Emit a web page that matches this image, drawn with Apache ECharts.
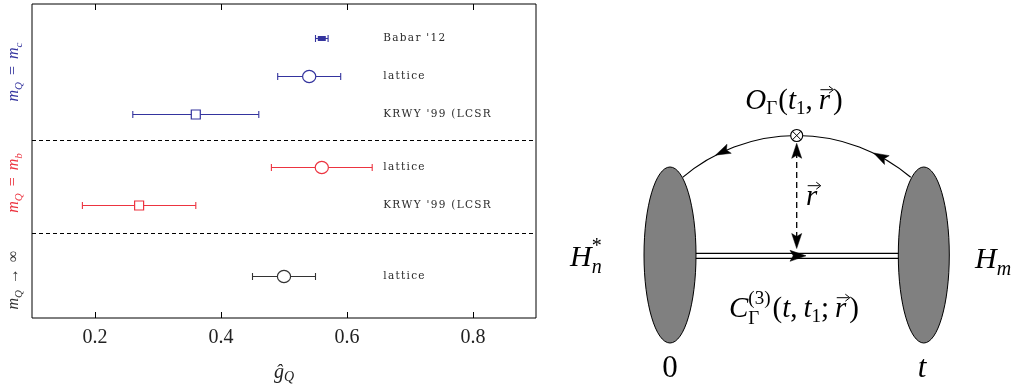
<!DOCTYPE html>
<html><head><meta charset="utf-8">
<script src="https://cdn.jsdelivr.net/npm/echarts@6/dist/echarts.min.js"></script>
<style>html,body{margin:0;padding:0;background:#fff}#c{width:1024px;height:387px}</style>
</head><body><div id="c"></div>
<script>
// ---------- data ----------
const rowLabels = ["Babar '12", "lattice", "KRWY '99 (LCSR", "lattice", "KRWY '99 (LCSR", "lattice"];
const rowGroups = [0, 0, 0, 1, 1, 2];
const rowPositions = [0.9, 1.9, 2.9, 4.3, 5.3, 7.2];
const centralValues = [0.56, 0.54, 0.36, 0.56, 0.27, 0.50];
const errorValues = [0.01, 0.05, 0.10, 0.08, 0.09, 0.05];
const markerKinds = ['bar', 'circle', 'square', 'circle', 'square', 'circle'];
const separatorPositions = [3.6, 6.05];
const xTickValues = [0.2, 0.4, 0.6, 0.8];
const groupColors = ['#34349e', '#ec3440', '#333333'];

// ---------- text helpers ----------
const mctx = document.createElement('canvas').getContext('2d');
const SERIF = '"Liberation Serif"';
function fnt(s, it, fam) { return (it ? 'italic ' : '') + s + 'px ' + (fam || SERIF); }
function meas(t, s, it, fam) { mctx.font = fnt(s, it, fam); return mctx.measureText(t).width; }
function mathElems(parts, x0, base, align, color) {
  let x = 0, prevX = 0; const items = [];
  parts.forEach(p => {
    const w = meas(p.t, p.s, p.it, p.fam);
    const px = p.same ? prevX : x + (p.k || 0);
    items.push(Object.assign({}, p, { x: px, w: w }));
    if (p.same) { x = Math.max(x, px + w); } else { prevX = px; x = px + w; }
  });
  const start = align === 'center' ? x0 - x / 2 : (align === 'right' ? x0 - x : x0);
  const out = [];
  items.forEach(p => {
    const bx = start + p.x, by = base + (p.dy || 0);
    out.push({ type: 'text', x: bx, y: by - 0.305 * p.s,
      style: { text: p.t, font: fnt(p.s, p.it, p.fam), fill: color || '#000',
        align: 'left', verticalAlign: 'middle', textAlign: 'left', textVerticalAlign: 'middle' } });
    if (p.vec) {
      const ay = by - 0.7 * p.s, ax0 = bx + 0.15 * p.w, ax1 = bx + p.w + 0.12 * p.s;
      out.push({ type: 'line', shape: { x1: ax0, y1: ay, x2: ax1 - 1, y2: ay }, style: { stroke: color || '#000', lineWidth: 1 } });
      out.push({ type: 'polyline', shape: { points: [[ax1 - 4.5, ay - 3.5], [ax1, ay], [ax1 - 4.5, ay + 3.5]] }, style: { stroke: color || '#000', lineWidth: 1, fill: null } });
    }
  });
  return out;
}
function head(tx, ty, ang, len, wid) {
  const dx = Math.cos(ang), dy = Math.sin(ang);
  const bx = tx - dx * len, by = ty - dy * len;
  const nx = -dy, ny = dx;
  return { type: 'polygon', shape: { points: [[tx, ty], [bx + nx * wid / 2, by + ny * wid / 2], [tx - dx * len * 0.8, ty - dy * len * 0.8], [bx - nx * wid / 2, by - ny * wid / 2]] },
    style: { fill: '#000', stroke: '#000', lineWidth: 0.5 } };
}

// ---------- group labels (rotated) ----------
const groupLabelParts = [
  [{ t: 'm', s: 16, it: 1 }, { t: 'Q', s: 11, it: 1, dy: 3 }, { t: '=', s: 16, k: 7 }, { t: 'm', s: 16, it: 1, k: 7 }, { t: 'c', s: 11, it: 1, dy: 3 }],
  [{ t: 'm', s: 16, it: 1 }, { t: 'Q', s: 11, it: 1, dy: 3 }, { t: '=', s: 16, k: 7 }, { t: 'm', s: 16, it: 1, k: 7 }, { t: 'b', s: 11, it: 1, dy: 3 }],
  [{ t: 'm', s: 16, it: 1 }, { t: 'Q', s: 11, it: 1, dy: 3 }, { t: '→', s: 16, k: 6 }, { t: '∞', s: 16, k: 6 }]
];
const groupLabelCenters = [[15, 72], [15, 183], [15, 280]];

const graphics = [];
groupLabelParts.forEach((parts, g) => {
  graphics.push({ type: 'group', x: groupLabelCenters[g][0], y: groupLabelCenters[g][1], rotation: Math.PI / 2,
    children: mathElems(parts, 0, 4, 'center', groupColors[g]) });
});
// x axis title  ĝ_Q
graphics.push(...mathElems([{ t: 'ĝ', s: 20, it: 1 }, { t: 'Q', s: 14, it: 1, dy: 3 }], 284, 379, 'center', '#222'));

// ---------- diagram ----------
const ARC = { cx: 796.7, cy: 311.9, r: 176.4 };
graphics.push({ type: 'arc', shape: { cx: ARC.cx, cy: ARC.cy, r: ARC.r, startAngle: -2.274, endAngle: -0.868, clockwise: true },
  style: { stroke: '#000', fill: null, lineWidth: 1.2 } });
[-115.1, -61.9].forEach(deg => {
  const th = deg * Math.PI / 180;
  const px = ARC.cx + ARC.r * Math.cos(th), py = ARC.cy + ARC.r * Math.sin(th);
  const dx = Math.sin(th), dy = -Math.cos(th);
  graphics.push(head(px + dx * 7, py + dy * 7, Math.atan2(dy, dx), 15, 10));
});
graphics.push({ type: 'line', shape: { x1: 690, y1: 253.3, x2: 905, y2: 253.3 }, style: { stroke: '#000', lineWidth: 1.3 } });
graphics.push({ type: 'line', shape: { x1: 690, y1: 258.3, x2: 905, y2: 258.3 }, style: { stroke: '#000', lineWidth: 1.3 } });
graphics.push(head(806, 255.8, 0, 16, 11));
graphics.push({ type: 'ellipse', shape: { cx: 670, cy: 255, rx: 26, ry: 88 }, style: { fill: '#808080', stroke: '#000', lineWidth: 1 } });
graphics.push({ type: 'ellipse', shape: { cx: 923.8, cy: 255, rx: 25.5, ry: 88 }, style: { fill: '#808080', stroke: '#000', lineWidth: 1 } });
graphics.push({ type: 'line', shape: { x1: 796.7, y1: 152, x2: 796.7, y2: 240 }, style: { stroke: '#000', lineWidth: 1.3, lineDash: [6, 4] } });
graphics.push(head(796.7, 143.3, -Math.PI / 2, 15, 10));
graphics.push(head(796.7, 248.5, Math.PI / 2, 15, 10));
graphics.push({ type: 'circle', shape: { cx: 796.7, cy: 135.5, r: 6 }, style: { fill: '#fff', stroke: '#000', lineWidth: 1.1 } });
graphics.push({ type: 'line', shape: { x1: 792.5, y1: 131.3, x2: 800.9, y2: 139.7 }, style: { stroke: '#000', lineWidth: 1 } });
graphics.push({ type: 'line', shape: { x1: 800.9, y1: 131.3, x2: 792.5, y2: 139.7 }, style: { stroke: '#000', lineWidth: 1 } });

graphics.push(...mathElems([
  { t: 'O', s: 29, it: 1 }, { t: 'Γ', s: 19, dy: 5 }, { t: '(', s: 29, k: 1 }, { t: 't', s: 29, it: 1 }, { t: '1', s: 19, dy: 5 },
  { t: ',', s: 29 }, { t: 'r', s: 29, it: 1, k: 6, vec: 1 }, { t: ')', s: 29, k: 3 }], 794, 110, 'center'));
graphics.push(...mathElems([{ t: 'r', s: 29, it: 1, vec: 1 }], 806, 206, 'left'));
graphics.push(...mathElems([
  { t: 'C', s: 29, it: 1 }, { t: 'Γ', s: 19, dy: 7 }, { t: '(3)', s: 19, dy: -13, same: 1 }, { t: '(', s: 29, k: 2 },
  { t: 't', s: 29, it: 1 }, { t: ',', s: 29 }, { t: 't', s: 29, it: 1, k: 6 }, { t: '1', s: 19, dy: 5 }, { t: ';', s: 29 },
  { t: 'r', s: 29, it: 1, k: 6, vec: 1 }, { t: ')', s: 29, k: 3 }], 794, 318, 'center'));
graphics.push(...mathElems([{ t: 'H', s: 30, it: 1 }, { t: '*', s: 20, dy: -14 }, { t: 'n', s: 20, it: 1, dy: 7, same: 1 }], 570, 267, 'left'));
graphics.push(...mathElems([{ t: 'H', s: 30, it: 1 }, { t: 'm', s: 20, it: 1, dy: 7 }], 975, 269, 'left'));
graphics.push(...mathElems([{ t: '0', s: 31 }], 670, 378, 'center'));
graphics.push(...mathElems([{ t: 't', s: 31, it: 1 }], 922, 378, 'center'));

// ---------- chart ----------
const LABEL_X = 0.6575;
const LABEL_FONT = '10.5px "DejaVu Serif"';
const chart = echarts.init(document.getElementById('c'), null, { renderer: 'canvas' });
function makeX(pos, showLabel) {
  return {
    type: 'value', min: 0.1, max: 0.9, position: pos,
    axisLine: { show: false, onZero: false }, splitLine: { show: false },
    axisTick: { show: true, inside: true, length: 6, customValues: xTickValues, lineStyle: { color: '#000', width: 1 } },
    axisLabel: showLabel ? { show: true, customValues: xTickValues, margin: 10, color: '#222', fontFamily: 'Liberation Serif', fontSize: 20,
      formatter: v => v.toFixed(1) } : { show: false }
  };
}
chart.setOption({
  animation: false,
  grid: { left: 32, right: 488, top: 4, bottom: 69, show: true, borderColor: '#000', borderWidth: 1, backgroundColor: 'transparent' },
  xAxis: [makeX('bottom', true), makeX('top', false)],
  yAxis: { type: 'value', min: 0, max: 8.3, inverse: true, show: false, axisLine: { onZero: false } },
  graphic: graphics,
  series: [
    {
      type: 'custom',
      xAxisIndex: 0,
      encode: { x: 0, y: 2 },
      data: centralValues.map((c, i) => [c, errorValues[i], rowPositions[i], i]),
      renderItem: (params, api) => {
        const i = api.value(3);
        const c = api.value(0), e = api.value(1), yv = api.value(2);
        const col = groupColors[rowGroups[i]];
        const pL = api.coord([c - e, yv]), pR = api.coord([c + e, yv]), pC = api.coord([c, yv]);
        const y = Math.round(pC[1]) + 0.5;
        const ch = [];
        const ls = { stroke: col, lineWidth: 1.1 };
        ch.push({ type: 'line', shape: { x1: pL[0], y1: y, x2: pR[0], y2: y }, style: ls });
        ch.push({ type: 'line', shape: { x1: pL[0], y1: y - 3.5, x2: pL[0], y2: y + 3.5 }, style: ls });
        ch.push({ type: 'line', shape: { x1: pR[0], y1: y - 3.5, x2: pR[0], y2: y + 3.5 }, style: ls });
        const k = markerKinds[i];
        if (k === 'bar') ch.push({ type: 'rect', shape: { x: pC[0] - 4, y: y - 2.5, width: 8, height: 5 }, style: { fill: col } });
        else if (k === 'circle') ch.push({ type: 'ellipse', shape: { cx: pC[0], cy: y, rx: 6.6, ry: 6.1 }, style: { fill: '#fff', stroke: col, lineWidth: 1.2 } });
        else ch.push({ type: 'rect', shape: { x: pC[0] - 4.5, y: y - 4.5, width: 9, height: 9 }, style: { fill: '#fff', stroke: col, lineWidth: 1.2 } });
        // row label with letter spacing
        const lp = api.coord([LABEL_X, yv]);
        let lx = lp[0];
        mctx.font = LABEL_FONT;
        for (const chr of rowLabels[i]) {
          ch.push({ type: 'text', x: lx, y: y, style: { text: chr, font: LABEL_FONT, fill: '#2a2a2a', align: 'left', verticalAlign: 'middle', textAlign: 'left', textVerticalAlign: 'middle' } });
          lx += mctx.measureText(chr).width + 1.3;
        }
        return { type: 'group', children: ch };
      }
    },
    {
      type: 'line', data: [], silent: true,
      markLine: { silent: true, symbol: ['none', 'none'], label: { show: false },
        lineStyle: { type: [4, 3], color: '#000', width: 1 },
        data: separatorPositions.map(v => ({ yAxis: v })) }
    }
  ]
});
</script>
</body></html>
